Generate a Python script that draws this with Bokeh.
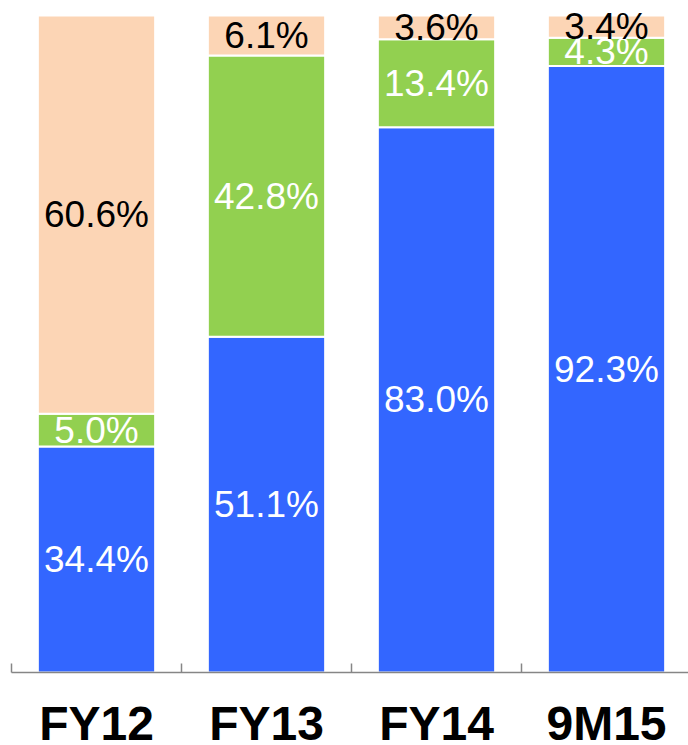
from bokeh.plotting import figure
from bokeh.models import ColumnDataSource, Range1d, FixedTicker, LinearAxis
from bokeh.core.properties import value
from bokeh.embed import file_html
from bokeh.resources import INLINE

categories = ["FY12", "FY13", "FY14", "9M15"]
blue = [34.4, 51.1, 83.0, 92.3]
green = [5.0, 42.8, 13.4, 4.3]
peach = [60.6, 6.1, 3.6, 3.4]

series = ["blue", "green", "peach"]
colors = ["#3366FF", "#92D050", "#FCD5B5"]
text_colors = ["white", "white", "black"]

xs = [i + 0.5 for i in range(len(categories))]
src = ColumnDataSource(dict(x=xs, blue=blue, green=green, peach=peach))

p = figure(width=688, height=752, output_backend="svg", toolbar_location=None,
           x_range=Range1d(0, 677 / 170), y_range=Range1d(0, 100 * 662 / 655),
           min_border_left=11, min_border_right=0, min_border_top=8, min_border_bottom=0,
           x_axis_location=None, y_axis_location=None)
p.outline_line_color = None
p.grid.visible = False

p.vbar_stack(series, x="x", width=0.69, source=src, fill_color=colors,
             line_color="white", line_width=2)

# labels
lx, ly, lt, lc = [], [], [], []
vals = [blue, green, peach]
for i in range(len(categories)):
    base = 0.0
    for s, arr in enumerate(vals):
        v = arr[i]
        lx.append(xs[i])
        ly.append(base + v / 2)
        lt.append(f"{v:.1f}%")
        lc.append(text_colors[s])
        base += v
lsrc = ColumnDataSource(dict(x=lx, y=ly, t=lt, c=lc))
p.text(x="x", y="y", text="t", text_color="c", source=lsrc,
       text_align="center", text_baseline="middle",
       text_font=value("Liberation Sans"), text_font_size="37px")

ax = LinearAxis(ticker=FixedTicker(ticks=xs, minor_ticks=list(range(len(categories) + 1))))
ax.major_label_overrides = {x: c for x, c in zip(xs, categories)}
ax.major_tick_in = 0
ax.major_tick_out = 0
ax.minor_tick_in = 9
ax.minor_tick_out = 0
ax.minor_tick_line_color = "#868686"
ax.minor_tick_line_width = 1.5
ax.axis_line_color = "#868686"
ax.axis_line_width = 1.5
ax.major_label_text_font = "Liberation Sans"
ax.major_label_text_font_style = "bold"
ax.major_label_text_font_size = "48px"
ax.major_label_text_color = "black"
ax.major_label_standoff = 24
p.add_layout(ax, "below")

open("out.html", "w").write(file_html(p, INLINE))
